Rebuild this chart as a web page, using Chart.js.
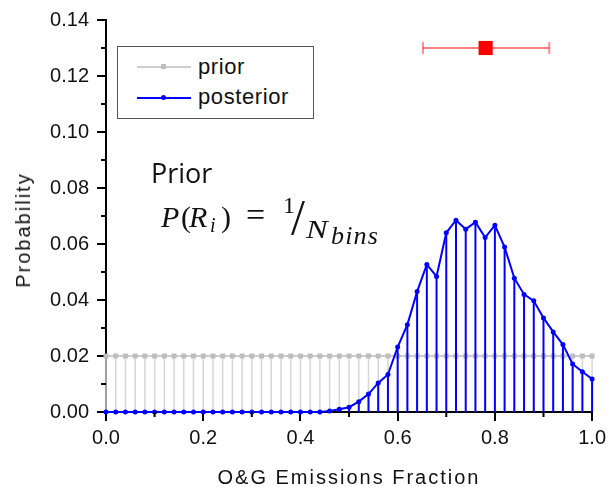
<!DOCTYPE html>
<html>
<head>
<meta charset="utf-8">
<script src="https://cdn.jsdelivr.net/npm/chart.js@4.4.1/dist/chart.umd.min.js"></script>
<style>
  html, body { margin: 0; padding: 0; background: #fff; }
  #wrap { position: relative; width: 611px; height: 487px; overflow: hidden; }
  #chart { position: absolute; left: 0; top: 0; }
  .txt { position: absolute; white-space: nowrap; color: #111; }
  .sans { font-family: 'Liberation Sans', Arial, sans-serif; }
  #xTitle { left: 349px; top: 467px; font-size: 20px; line-height: 20px; letter-spacing: 2px; transform: translateX(-50%); }
  #yTitle { left: 23px; top: 230px; font-size: 20px; line-height: 20px; letter-spacing: 2px; transform: translate(-50%, -50%) rotate(-90deg); }
  #legendBox { position: absolute; left: 117px; top: 46px; width: 195px; height: 71px; border: 1px solid #555; background: #fff; }
  .lgLine { position: absolute; left: 137px; width: 54px; height: 2px; }
  .lgMark { position: absolute; }
  .lgText { position: absolute; left: 198px; font-size: 22px; line-height: 22px; letter-spacing: 0.6px; }
  #priorNote { left: 151px; top: 159px; font-family: 'Open Sans', sans-serif; font-size: 27px; line-height: 27px; }
  .m { position: absolute; white-space: nowrap; color: #111; font-family: 'Liberation Serif', serif; line-height: 1; }
  .m.it { font-style: italic; }
</style>
</head>
<body>
<div id="wrap">
  <canvas id="chart" width="611" height="487"></canvas>

  <div id="legendBox"></div>
  <div class="lgLine" style="top:66px; background:#cfcfcf;"></div>
  <div class="lgMark" style="left:161px; top:64px; width:5px; height:5px; background:#bdbdbd;"></div>
  <div class="lgText txt sans" style="top:56px;">prior</div>
  <div class="lgLine" style="top:97px; background:#0000ff;"></div>
  <div class="lgMark" style="left:161px; top:95px; width:5px; height:5px; background:#0000ff; border-radius:50%;"></div>
  <div class="lgText txt sans" style="top:86px;">posterior</div>

  <div id="priorNote" class="txt">Prior</div>
  <!-- P(R_i) = 1/N_bins, pieces placed by hand to mimic the equation editor -->
  <div class="m it" style="left:161px; top:202px; font-size:30px;">P</div>
  <div class="m" style="left:181px; top:202px; font-size:30px;">(</div>
  <div class="m it" style="left:189px; top:202px; font-size:30px;">R</div>
  <div class="m it" style="left:210px; top:215px; font-size:20px;">i</div>
  <div class="m" style="left:221px; top:202px; font-size:30px;">)</div>
  <div class="m" style="left:246px; top:198px; font-size:34px;">=</div>
  <div class="m" style="left:283px; top:193px; font-size:24px;">1</div>
  <div class="m" style="left:291px; top:192px; font-size:50px;">/</div>
  <div class="m it" style="left:306px; top:217px; font-size:25px; transform:scaleX(1.3); transform-origin:left;">N</div>
  <div class="m it" style="left:331px; top:223px; font-size:26px; letter-spacing:1.2px;">bins</div>

  <div id="xTitle" class="txt sans">O&amp;G Emissions Fraction</div>
  <div id="yTitle" class="txt sans">Probability</div>
</div>

<script>
/* Bin centres (fraction of emissions from O&G) */
var xBins = [
  0.00, 0.02, 0.04, 0.06, 0.08, 0.10, 0.12, 0.14, 0.16, 0.18,
  0.20, 0.22, 0.24, 0.26, 0.28, 0.30, 0.32, 0.34, 0.36, 0.38,
  0.40, 0.42, 0.44, 0.46, 0.48, 0.50, 0.52, 0.54, 0.56, 0.58,
  0.60, 0.62, 0.64, 0.66, 0.68, 0.70, 0.72, 0.74, 0.76, 0.78,
  0.80, 0.82, 0.84, 0.86, 0.88, 0.90, 0.92, 0.94, 0.96, 0.98,
  1.00
];

/* Flat prior, 1/N per bin */
var priorProb = [
  0.02, 0.02, 0.02, 0.02, 0.02, 0.02, 0.02, 0.02, 0.02, 0.02,
  0.02, 0.02, 0.02, 0.02, 0.02, 0.02, 0.02, 0.02, 0.02, 0.02,
  0.02, 0.02, 0.02, 0.02, 0.02, 0.02, 0.02, 0.02, 0.02, 0.02,
  0.02, 0.02, 0.02, 0.02, 0.02, 0.02, 0.02, 0.02, 0.02, 0.02,
  0.02, 0.02, 0.02, 0.02, 0.02, 0.02, 0.02, 0.02, 0.02, 0.02,
  0.02
];

/* Posterior */
var posteriorProb = [
  0, 0, 0, 0, 0, 0, 0, 0, 0, 0,
  0, 0, 0, 0, 0, 0, 0, 0, 0, 0,
  0, 0, 0, 0.0004, 0.0010, 0.0017, 0.0037, 0.0064, 0.0104, 0.0134,
  0.0232, 0.0312, 0.0430, 0.0527, 0.0484, 0.0640, 0.0685, 0.0653, 0.0678, 0.0623,
  0.0667, 0.0589, 0.0478, 0.0420, 0.0397, 0.0336, 0.0286, 0.0241, 0.0171, 0.0144,
  0.0118
];

/* Best estimate with its range (red marker at the top) */
var rangeX = [0.652, 0.912];
var rangeY = [0.13, 0.13];
var bestX = [0.781];
var bestY = [0.13];

var yMinorTicks = [0.01, 0.03, 0.05, 0.07, 0.09, 0.11, 0.13];
var xMinorTicks = [0.1, 0.3, 0.5, 0.7, 0.9];

function pairs(xs, ys) {
  return xs.map(function(x, i) { return { x: x, y: ys[i] }; });
}

var TICK_FONT = { family: "'Liberation Sans', Arial, sans-serif", size: 20 };

/* Vertical drop lines from every point to zero, drawn just before its dataset */
var stemPlugin = {
  id: 'stems',
  beforeDatasetDraw: function(chart, args) {
    var ds = chart.data.datasets[args.index];
    if (!ds.stemColor) return;
    var ctx = chart.ctx;
    var y0 = chart.scales.y.getPixelForValue(0);
    ctx.save();
    ctx.strokeStyle = ds.stemColor;
    ctx.lineWidth = ds.stemWidth;
    args.meta.data.forEach(function(pt) {
      ctx.beginPath();
      ctx.moveTo(pt.x, pt.y);
      ctx.lineTo(pt.x, y0);
      ctx.stroke();
    });
    ctx.restore();
  }
};

/* Short minor ticks between the labelled ones */
var minorTickPlugin = {
  id: 'minorTicks',
  afterDraw: function(chart) {
    var ctx = chart.ctx;
    var xs = chart.scales.x, ys = chart.scales.y;
    var area = chart.chartArea;
    ctx.save();
    ctx.strokeStyle = '#000';
    ctx.lineWidth = 2;
    yMinorTicks.forEach(function(v) {
      var p = ys.getPixelForValue(v);
      ctx.beginPath();
      ctx.moveTo(area.left, p);
      ctx.lineTo(area.left - 5, p);
      ctx.stroke();
    });
    xMinorTicks.forEach(function(v) {
      var p = xs.getPixelForValue(v);
      ctx.beginPath();
      ctx.moveTo(p, area.bottom);
      ctx.lineTo(p, area.bottom + 5);
      ctx.stroke();
    });
    ctx.restore();
  }
};

new Chart(document.getElementById('chart').getContext('2d'), {
  type: 'scatter',
  data: {
    datasets: [
      {
        label: 'range',
        data: pairs(rangeX, rangeY),
        showLine: true,
        borderColor: 'rgba(255, 0, 0, 0.5)',
        borderWidth: 2,
        pointStyle: 'line',
        rotation: 90,
        pointRadius: 6,
        pointBorderWidth: 2,
        pointBorderColor: 'rgba(255, 0, 0, 0.45)',
        clip: false,
        order: 1
      },
      {
        label: 'best',
        data: pairs(bestX, bestY),
        pointStyle: 'rect',
        pointRadius: 10,
        pointBorderWidth: 0,
        backgroundColor: '#ff0000',
        clip: false,
        order: 0
      },
      {
        label: 'posterior',
        data: pairs(xBins, posteriorProb),
        showLine: true,
        borderColor: '#0000ff',
        borderWidth: 2,
        pointRadius: 2.5,
        pointBorderWidth: 0,
        backgroundColor: '#0000ff',
        stemColor: '#0000ff',
        stemWidth: 2,
        clip: false,
        order: 2
      },
      {
        label: 'prior',
        data: pairs(xBins, priorProb),
        showLine: true,
        borderColor: '#cccccc',
        borderWidth: 2,
        pointStyle: 'rect',
        pointRadius: 3.5,
        pointBorderWidth: 0,
        backgroundColor: '#bdbdbd',
        stemColor: '#d6d6d6',
        stemWidth: 1.5,
        clip: false,
        order: 3
      }
    ]
  },
  options: {
    responsive: false,
    animation: false,
    layout: { padding: { left: 0, right: 17, top: 19, bottom: 0 } },
    plugins: {
      legend: { display: false },
      tooltip: { enabled: false }
    },
    scales: {
      x: {
        type: 'linear',
        min: 0,
        max: 1,
        afterFit: function(s) { s.height = 75; },
        ticks: {
          stepSize: 0.2,
          padding: 5,
          color: '#111',
          font: TICK_FONT,
          maxRotation: 0,
          callback: function(v) { return v.toFixed(1); }
        },
        grid: { drawOnChartArea: false, tickLength: 9, color: '#000', lineWidth: 2 },
        border: { color: '#000', width: 2 }
      },
      y: {
        type: 'linear',
        min: 0,
        max: 0.14,
        afterFit: function(s) { s.width = 106; },
        ticks: {
          stepSize: 0.02,
          padding: 8,
          color: '#111',
          font: TICK_FONT,
          callback: function(v) { return v.toFixed(2); }
        },
        grid: { drawOnChartArea: false, tickLength: 9, color: '#000', lineWidth: 2 },
        border: { color: '#000', width: 2 }
      }
    }
  },
  plugins: [stemPlugin, minorTickPlugin]
});
</script>
</body>
</html>
